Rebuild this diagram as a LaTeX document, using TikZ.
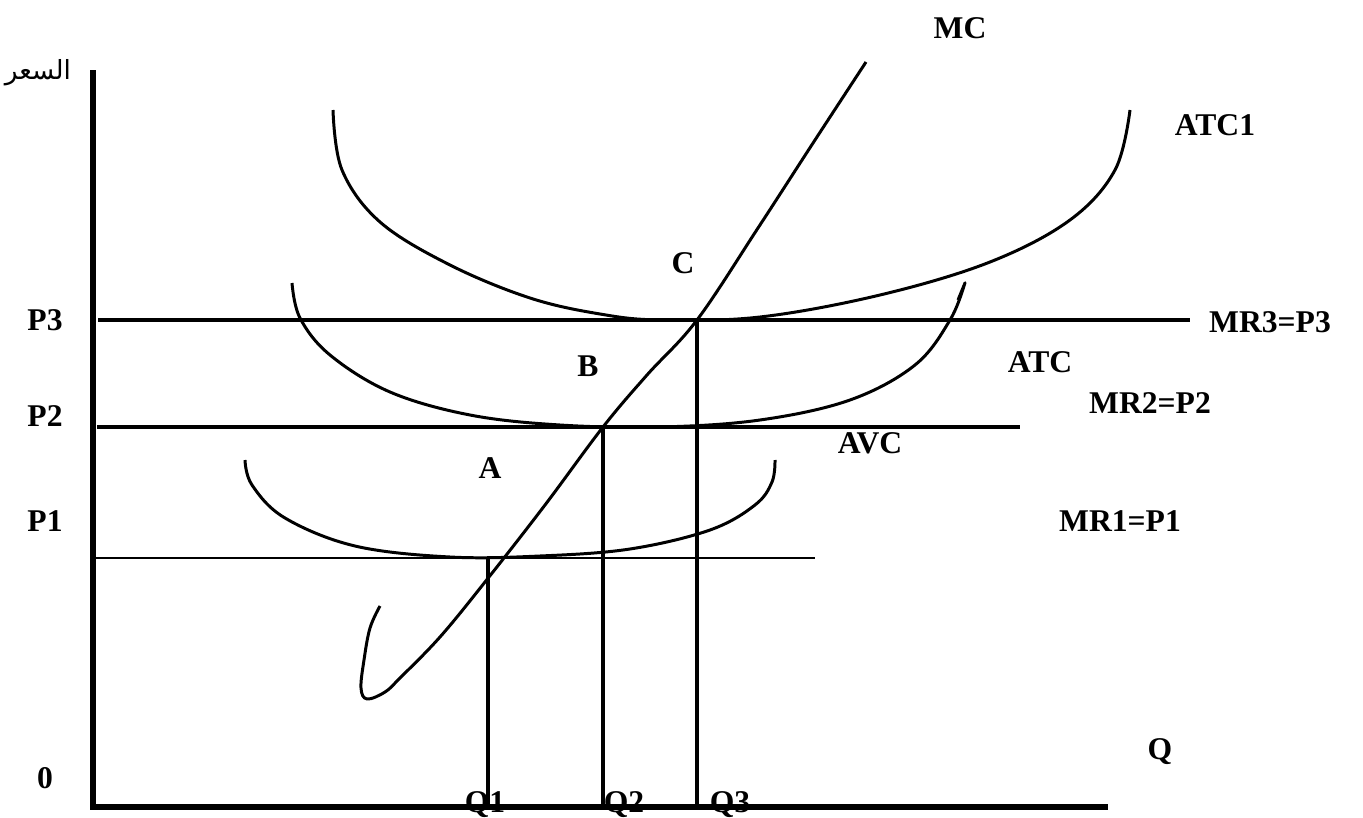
\documentclass[tikz,border=0pt]{standalone}
\usepackage{fontspec}
\setmainfont{Liberation Serif}
\newfontfamily\arabicfont[Script=Arabic]{DejaVu Sans}
\TeXXeTstate=1
\usepackage{tikz}
\usetikzlibrary{positioning}

\begin{document}
\begin{tikzpicture}[
    x=0.02cm, y=-0.02cm,
    etiq/.style={font=\fontsize{18}{20}\selectfont\bfseries, inner sep=0pt},
    eje/.style={line width=3.4pt},
    precio/.style={line width=2.6pt},
    curva/.style={line width=1.7pt, line join=round}
  ]
  \useasboundingbox (0,0) rectangle (1363,818);

  % --- Ejes ---
  \coordinate (origen) at (93,807);
  \coordinate (ytope) at (93,70);
  \coordinate (xfin) at (1108,807);
  \draw[eje] (ytope) -- (origen) -- (xfin);

  % --- Puntos de equilibrio ---
  \coordinate (ptoA) at (488,558);
  \coordinate (ptoB) at (603,427);
  \coordinate (ptoC) at (697,320);
  \coordinate (q1) at (488,807);
  \coordinate (q2) at (603,807);
  \coordinate (q3) at (697,807);

  % --- Rectas de precio ---
  \coordinate (p3izq) at (98,320);  \coordinate (p3der) at (1190,320);
  \coordinate (p2izq) at (97,427);  \coordinate (p2der) at (1020,427);
  \coordinate (p1izq) at (90,558);  \coordinate (p1der) at (815,558);
  \draw[precio] (p3izq) -- (p3der);
  \draw[line width=2.2pt] (p2izq) -- (p2der);
  \draw[line width=1.1pt] (p1izq) -- (p1der);

  % --- Verticales hacia las cantidades ---
  \draw[line width=2pt] (ptoA) -- (q1);
  \draw[line width=2.3pt] (ptoB) -- (q2);
  \draw[precio] (ptoC) -- (q3);

  % --- Curvas de costo ---
  \draw[curva] plot[smooth, tension=0.6] coordinates {
    (380,606) (370,628) (364,660) (361,688) (367,699) (385,692) (400,678)
    (440,637) (485,582) (545,505) (603,427) (647,375) (697,320)
    (758,228) (815,140) (866,62)};
  \draw[curva] plot[smooth, tension=0.6] coordinates {
    (333,110) (342,170) (380,222) (450,265) (530,298) (600,314) (660,320)
    (760,317) (880,295) (990,262) (1070,220) (1115,170) (1130,110)};
  \draw[curva] plot[smooth, tension=0.6] coordinates {
    (292,283) (300,318) (330,355) (390,392) (470,415) (560,425) (660,427)
    (760,420) (850,400) (915,365) (950,320) (965,283) (958,300)};
  \draw[curva] plot[smooth, tension=0.6] coordinates {
    (245,460) (252,485) (285,518) (355,546) (450,557) (540,556)
    (630,549) (710,530) (755,505) (772,482) (775,460)};

  % --- Rotulos ---
  \node[font=\fontsize{15}{17}\selectfont\arabicfont, inner sep=0pt] (eje_y) at (38,73) {\beginR السعر\endR};
  \node[etiq] (lbl_mc) at (960,28) {MC};
  \node[etiq] (lbl_atc1) at (1215,125) {ATC1};
  \node[etiq] (lbl_p3) at (45,320) {P3};
  \node[etiq] (lbl_p2) at (45,416) {P2};
  \node[etiq] (lbl_p1) at (45,521) {P1};
  \node[etiq] (lbl_cero) at (45,778) {0};
  \node[etiq] (lbl_c) at (683,263) {C};
  \node[etiq] (lbl_b) at (588,366) {B};
  \node[etiq] (lbl_a) at (490,468) {A};
  \node[etiq] (lbl_mr3) at (1270,322) {MR3=P3};
  \node[etiq] (lbl_atc) at (1040,362) {ATC};
  \node[etiq] (lbl_mr2) at (1150,403) {MR2=P2};
  \node[etiq] (lbl_avc) at (870,443) {AVC};
  \node[etiq] (lbl_mr1) at (1120,521) {MR1=P1};
  \node[etiq] (lbl_q) at (1160,752) {Q};
  \node[etiq, anchor=base] (lbl_q1) at (485,812) {Q1};
  \node[etiq, anchor=base] (lbl_q2) at (624,812) {Q2};
  \node[etiq, anchor=base] (lbl_q3) at (730,812) {Q3};
\end{tikzpicture}
\end{document}
